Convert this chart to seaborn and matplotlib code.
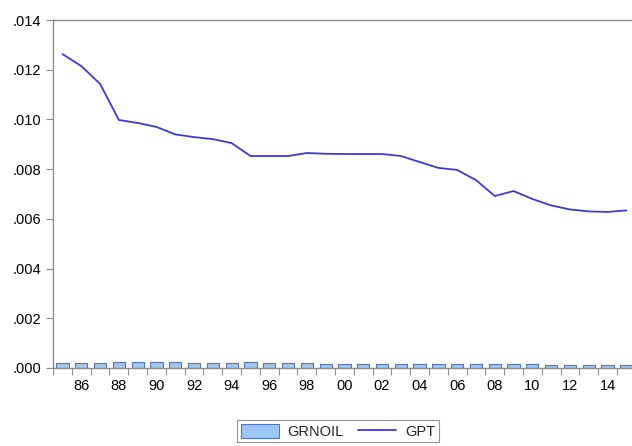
import numpy as np
import pandas as pd
import matplotlib
matplotlib.use('Agg')
import matplotlib.pyplot as plt
import seaborn as sns
from matplotlib.patches import Patch
from matplotlib.lines import Line2D
from matplotlib.ticker import FuncFormatter

# --------------
# Data
# --------------
years = list(range(1985, 2016))
gpt = [0.01263, 0.01215, 0.01143, 0.00998, 0.00986, 0.00970, 0.00940, 0.00929,
       0.00921, 0.00905, 0.00853, 0.00853, 0.00853, 0.00865, 0.00862, 0.00861,
       0.00861, 0.00861, 0.00853, 0.00829, 0.00805, 0.00797, 0.00756, 0.00692,
       0.00712, 0.00680, 0.00654, 0.00638, 0.00630, 0.00628, 0.00634]
grnoil = [0.00019, 0.00018, 0.00019, 0.00022, 0.00022, 0.00022, 0.00022, 0.00019,
          0.00019, 0.00019, 0.00022, 0.00020, 0.00020, 0.00019, 0.00017, 0.00017,
          0.00017, 0.00017, 0.00017, 0.00016, 0.00016, 0.00015, 0.00015, 0.00015,
          0.00015, 0.00014, 0.00013, 0.00013, 0.00013, 0.00013, 0.00013]
tick_years = list(range(1986, 2016, 2))
tick_labels = ['%02d' % (y % 100) for y in tick_years]

df = pd.DataFrame({'Year': years, 'GPT': gpt, 'GRNOIL': grnoil})

# --------------
# Figure
# --------------
sns.set_style('white')
plt.rcParams['font.family'] = ['Liberation Sans', 'DejaVu Sans']

bar_color = '#9cc6f4'
bar_edge = '#4f73c2'
line_color = '#3b3bd6'
spine_color = '#8c8c8c'

fig = plt.figure(figsize=(6.32, 4.46), dpi=100)
ax = fig.add_axes([0.084, 0.175, 0.916, 0.78])

sns.barplot(data=df, x='Year', y='GRNOIL', native_scale=True, width=0.65,
            color=bar_color, edgecolor=bar_edge, linewidth=0.8, ax=ax)
sns.lineplot(data=df, x='Year', y='GPT', color=line_color, linewidth=1.3, ax=ax)

ax.set_xlim(1984.6, 2015.3)
ax.set_ylim(0, 0.014)
ax.set_yticks(np.arange(0, 0.0141, 0.002))
ax.yaxis.set_major_formatter(FuncFormatter(lambda v, p: ('%.3f' % v)[1:]))
ax.set_xticks(tick_years)
ax.set_xticklabels(tick_labels)
# EViews style: tick marks between observations
ax.set_xticks(np.arange(1984.5, 2015.5, 1), minor=True)
ax.set_xlabel('')
ax.set_ylabel('')

ax.spines['right'].set_visible(False)
for s in ax.spines.values():
    s.set_color(spine_color)
    s.set_linewidth(1.0)
ax.tick_params(bottom=True, left=True, which='both')
ax.tick_params(axis='both', which='both', direction='out', color=spine_color,
               labelsize=10.5, labelcolor='black', width=0.8)
ax.tick_params(axis='x', which='major', length=0, pad=8)
ax.tick_params(axis='x', which='minor', length=5)
ax.tick_params(axis='y', which='major', length=5)

handles = [Patch(facecolor=bar_color, edgecolor=bar_edge, linewidth=0.8),
           Line2D([0], [0], color=line_color, linewidth=1.3)]
leg = fig.legend(handles, ['GRNOIL', 'GPT'], loc='center', ncol=2,
                 bbox_to_anchor=(0.535, 0.033), frameon=True, fancybox=False,
                 fontsize=10.5, handlelength=2.6, handleheight=1.1,
                 borderpad=0.25, columnspacing=1.0, handletextpad=0.6)
leg.get_frame().set_edgecolor('#777777')
leg.get_frame().set_linewidth(0.8)

fig.savefig('out.png', dpi=100)
plt.close()
